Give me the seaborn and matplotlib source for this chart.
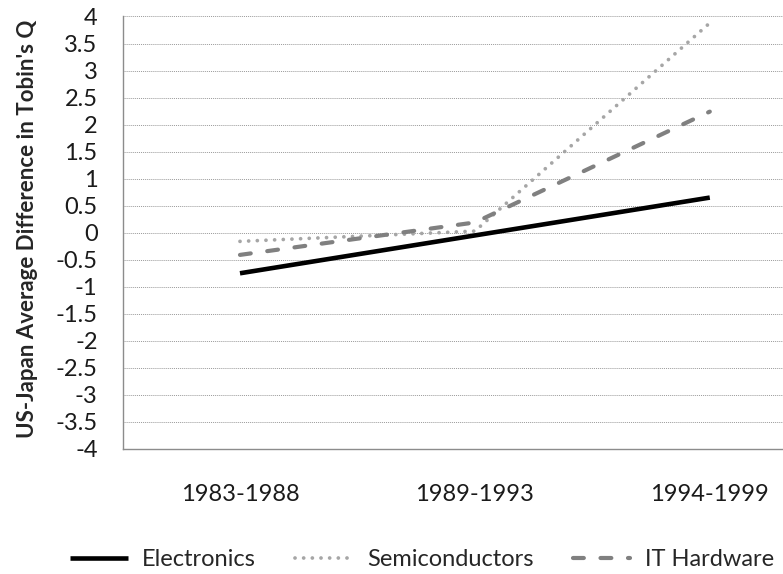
import numpy as np
import pandas as pd
import matplotlib
matplotlib.use("Agg")
import matplotlib.pyplot as plt
import seaborn as sns

# data
periods = ["1983-1988", "1989-1993", "1994-1999"]
electronics = [-0.75, -0.05, 0.65]
semiconductors = [-0.16, 0.03, 3.88]
it_hardware = [-0.41, 0.19, 2.24]
y_ticks = np.arange(-4, 4.01, 0.5)

sns.set_style("white")
plt.rcParams['font.family'] = ['Lato', 'DejaVu Sans']

fig = plt.figure(figsize=(7.83, 5.74), dpi=100)
# plot area runs past the right edge of the picture, as in the reference
ax = fig.add_axes([0.1565, 0.2178, 0.90, 0.7535])

xpos = np.arange(len(periods))
series = [
    ("Electronics", electronics, "#000000", "-", 3.3, "butt"),
    ("Semiconductors", semiconductors, "#A6A6A6", (0, (0.01, 2.3)), 2.7, "round"),
    ("IT Hardware", it_hardware, "#808080", (0, (2.6, 4.0)), 3.0, "round"),
]

for name, vals, col, ls, lw, cap in series:
    sns.lineplot(x=xpos, y=vals, ax=ax, color=col, linewidth=lw, label=name)
    line = ax.get_lines()[-1]
    line.set_linestyle(ls)
    line.set_dash_capstyle(cap)
    line.set_solid_capstyle(cap)

ax.set_xlim(-0.5, 2.5)
ax.set_ylim(-4, 4)
ax.set_yticks(y_ticks)
ax.set_yticklabels([f"{v:g}" for v in y_ticks])
ax.set_xticks(xpos)
ax.set_xticklabels(periods)
ax.tick_params(axis='both', length=0, labelsize=17, colors='#1a1a1a')
ax.tick_params(axis='x', pad=25)
ax.tick_params(axis='y', pad=18)

ax.yaxis.grid(True, color='#9a9a9a', linestyle=(0, (1, 1)), linewidth=0.7)
ax.set_axisbelow(True)
for s in ['top', 'right']:
    ax.spines[s].set_visible(False)
for s in ['left', 'bottom']:
    ax.spines[s].set_color('#8c8c8c')
    ax.spines[s].set_linewidth(1.0)

ax.set_ylabel("US-Japan Average Difference in Tobin's Q", fontsize=16,
              fontweight='bold')
ax.yaxis.set_label_coords(-0.12, 0.51)

handles, labels = ax.get_legend_handles_labels()
ax.legend_.remove()
fig.legend(handles, labels, loc='center', bbox_to_anchor=(0.539, 0.025),
           ncol=3, frameon=False, fontsize=17, handlelength=2.45,
           columnspacing=1.65, handletextpad=0.6)

fig.savefig("out.png", dpi=100)
